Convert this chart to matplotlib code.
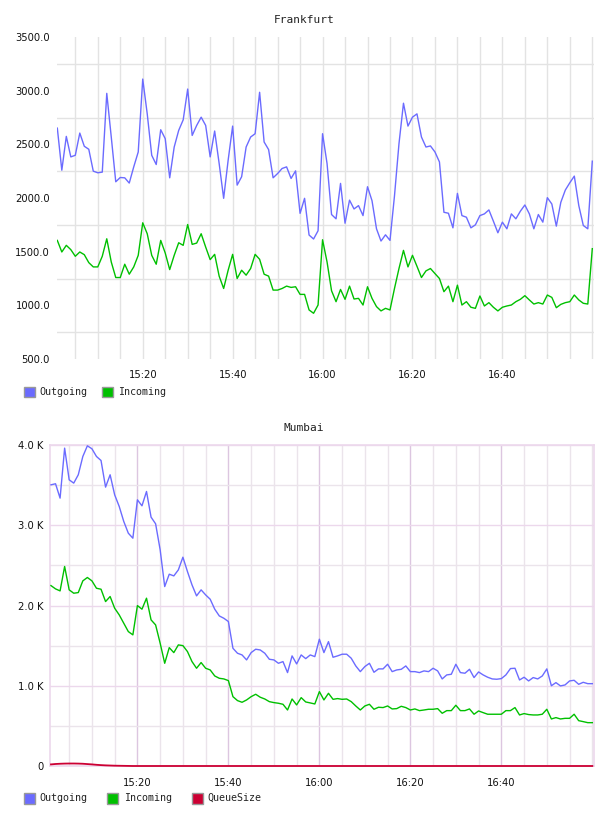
import numpy as np
import matplotlib
matplotlib.use("Agg")
import matplotlib.pyplot as plt
from matplotlib.patches import Rectangle
from matplotlib.ticker import FixedLocator, MultipleLocator

# minutes after 15:00, one sample per minute
minutes = np.arange(1, 121)
time_ticks = [20, 40, 60, 80, 100]
time_labels = ["15:20", "15:40", "16:00", "16:20", "16:40"]

fra_outgoing = [
    2651, 2259, 2574, 2383, 2398, 2605, 2482, 2454, 2250, 2235,
    2241, 2975, 2568, 2151, 2191, 2188, 2139, 2290, 2429, 3108,
    2784, 2398, 2312, 2636, 2553, 2188, 2475, 2630, 2728, 3015,
    2583, 2676, 2753, 2676, 2383, 2624, 2321, 1997, 2352, 2670,
    2120, 2198, 2475, 2568, 2599, 2985, 2522, 2451, 2188, 2228,
    2275, 2290, 2182, 2253, 1857, 1997, 1655, 1618, 1695, 2599,
    2321, 1846, 1806, 2136, 1765, 1980, 1898, 1929, 1836, 2105,
    1975, 1713, 1599, 1657, 1605, 2020, 2506, 2883, 2670, 2753,
    2784, 2568, 2475, 2485, 2429, 2336, 1867, 1858, 1722, 2043,
    1836, 1821, 1722, 1750, 1836, 1852, 1889, 1784, 1676, 1775,
    1713, 1852, 1806, 1877, 1935, 1852, 1713, 1846, 1775, 2003,
    1944, 1738, 1960, 2074, 2142, 2204, 1929, 1744, 1713, 2343,
]
fra_incoming = [
    1605, 1497, 1559, 1519, 1457, 1497, 1472, 1398, 1358, 1358,
    1457, 1620, 1404, 1259, 1259, 1383, 1290, 1358, 1466, 1769,
    1667, 1466, 1383, 1605, 1488, 1333, 1466, 1583, 1559, 1753,
    1568, 1580, 1667, 1543, 1426, 1475, 1272, 1157, 1327, 1475,
    1250, 1327, 1281, 1343, 1475, 1429, 1290, 1272, 1142, 1142,
    1157, 1179, 1167, 1173, 1102, 1102, 957, 926, 1003, 1611,
    1404, 1136, 1034, 1148, 1056, 1179, 1059, 1065, 1003, 1173,
    1065, 988, 948, 972, 957, 1157, 1343, 1512, 1358, 1466,
    1364, 1259, 1321, 1343, 1296, 1250, 1127, 1179, 1034, 1188,
    1003, 1034, 982, 972, 1087, 994, 1025, 982, 948, 982,
    994, 1003, 1034, 1056, 1090, 1050, 1012, 1025, 1012, 1096,
    1074, 978, 1009, 1025, 1034, 1096, 1050, 1019, 1012, 1528,
]

mum_outgoing = [
    3504, 3517, 3338, 3961, 3566, 3525, 3629, 3857, 3990, 3953,
    3857, 3807, 3475, 3629, 3379, 3234, 3047, 2901, 2839, 3317,
    3242, 3421, 3101, 3018, 2694, 2236, 2390, 2369, 2444, 2602,
    2423, 2257, 2120, 2195, 2132, 2078, 1954, 1870, 1841, 1800,
    1467, 1405, 1384, 1322, 1413, 1455, 1446, 1405, 1330, 1322,
    1280, 1301, 1164, 1372, 1272, 1384, 1338, 1384, 1363, 1580,
    1413, 1550, 1355, 1372, 1393, 1393, 1343, 1247, 1176, 1239,
    1280, 1168, 1210, 1210, 1268, 1176, 1197, 1205, 1247, 1176,
    1176, 1164, 1185, 1176, 1218, 1185, 1085, 1135, 1143, 1268,
    1164, 1156, 1205, 1102, 1172, 1135, 1106, 1085, 1081, 1089,
    1135, 1214, 1218, 1072, 1106, 1060, 1102, 1085, 1122, 1210,
    1000, 1039, 998, 1010, 1060, 1068, 1018, 1043, 1026, 1026,
]
mum_incoming = [
    2248, 2207, 2182, 2486, 2195, 2153, 2161, 2307, 2349, 2307,
    2215, 2203, 2049, 2112, 1966, 1883, 1779, 1675, 1634, 1999,
    1954, 2091, 1821, 1758, 1530, 1280, 1475, 1413, 1509, 1500,
    1426, 1301, 1218, 1289, 1218, 1197, 1122, 1093, 1085, 1064,
    864, 815, 794, 823, 864, 894, 857, 835, 802, 790,
    782, 769, 698, 835, 761, 852, 798, 786, 773, 927,
    823, 906, 831, 840, 831, 835, 802, 748, 698, 748,
    769, 707, 732, 728, 748, 711, 715, 744, 728, 698,
    711, 690, 698, 707, 707, 715, 657, 690, 690, 757,
    690, 690, 711, 645, 686, 665, 645, 645, 645, 645,
    690, 690, 728, 636, 653, 641, 636, 636, 645, 707,
    586, 603, 586, 594, 594, 645, 565, 553, 540, 540,
]
mum_queue = [20, 25, 28, 30, 31, 31, 30, 28, 24, 20,
             15, 11, 8, 6, 4, 3, 2, 1] + [0] * 102

BLUE = "#6b6bff"
GREEN = "#00c000"
RED = "#cc0033"
MONO = "DejaVu Sans Mono"

W, H = 608, 816
fig = plt.figure(figsize=(W / 100, H / 100), dpi=100)


def px_axes(left, top, right, bottom):
    return fig.add_axes([left / W, 1 - bottom / H, (right - left) / W, (bottom - top) / H])


def legend(items, y):
    for x_box, x_text, label, color in items:
        fig.add_artist(Rectangle((x_box / W, 1 - (y + 5.5) / H), 11 / W, 11 / H,
                                 transform=fig.transFigure, facecolor=color,
                                 edgecolor="#999999", lw=1.0))
        fig.text(x_text / W, 1 - y / H, label, family=MONO, fontsize=7.2,
                 ha="left", va="center", color="#222222")


# ---- Frankfurt ----
ax1 = px_axes(57, 37, 594, 359)
ax1.plot(minutes, fra_outgoing, color=BLUE, lw=1.0, zorder=3)
ax1.plot(minutes, fra_incoming, color=GREEN, lw=1.0, zorder=3)
ax1.set_xlim(0.93, 120.38)
ax1.set_ylim(500, 3500)
ax1.yaxis.set_major_locator(FixedLocator(np.arange(500, 3501, 500)))
ax1.yaxis.set_minor_locator(FixedLocator(np.arange(750, 3500, 500)))
ax1.set_yticklabels([f"{v:.1f}" for v in np.arange(500, 3501, 500)])
ax1.set_xticks(time_ticks)
ax1.set_xticklabels(time_labels)
ax1.xaxis.set_minor_locator(MultipleLocator(5))
ax1.grid(False)
ax1.grid(which="minor", color="#e3e3e3", lw=1.0)
ax1.grid(which="major", axis="x", color="#e3e3e3", lw=1.0)
ax1.tick_params(which="both", length=0, labelsize=7.2, colors="#111111")
ax1.tick_params(axis="y", pad=5)
ax1.tick_params(axis="x", pad=8)
for s in ax1.spines.values():
    s.set_visible(False)
fig.text(304 / W, 1 - 20 / H, "Frankfurt", family=MONO, fontsize=8,
         ha="center", va="center", color="#222222")
legend([(24, 39, "Outgoing", BLUE), (102, 118, "Incoming", GREEN)], 392)

# ---- Mumbai ----
ax2 = px_axes(50.3, 445, 594, 766)
ax2.plot(minutes, mum_outgoing, color=BLUE, lw=1.0, zorder=3)
ax2.plot(minutes, mum_incoming, color=GREEN, lw=1.0, zorder=3)
ax2.plot(minutes, mum_queue, color=RED, lw=1.3, zorder=4, clip_on=False)
ax2.set_xlim(0.85, 120.37)
ax2.set_ylim(0, 4000)
ax2.set_yticks(np.arange(0, 4001, 1000))
ax2.set_yticklabels(["0", "1.0 K", "2.0 K", "3.0 K", "4.0 K"])
ax2.yaxis.set_minor_locator(FixedLocator([500, 1500, 2500, 3500]))
ax2.set_xticks(time_ticks)
ax2.set_xticklabels(time_labels)
ax2.xaxis.set_minor_locator(MultipleLocator(5))
ax2.grid(which="minor", color="#ebe4eb", lw=1.0)
ax2.grid(which="major", axis="y", color="#ecd8ec", lw=1.0)
ax2.grid(which="major", axis="x", color="#dcc6e0", lw=1.0)
ax2.tick_params(which="both", length=0, labelsize=7.2, colors="#111111")
ax2.tick_params(axis="y", pad=5)
ax2.tick_params(axis="x", pad=9)
for s in ax2.spines.values():
    s.set_color("#ecd8ec")
    s.set_linewidth(1.2)
fig.text(304 / W, 1 - 428 / H, "Mumbai", family=MONO, fontsize=8,
         ha="center", va="center", color="#222222")
legend([(24, 39, "Outgoing", BLUE), (107, 124, "Incoming", GREEN),
        (192, 207, "QueueSize", RED)], 798)

fig.savefig("out.png", dpi=100)
